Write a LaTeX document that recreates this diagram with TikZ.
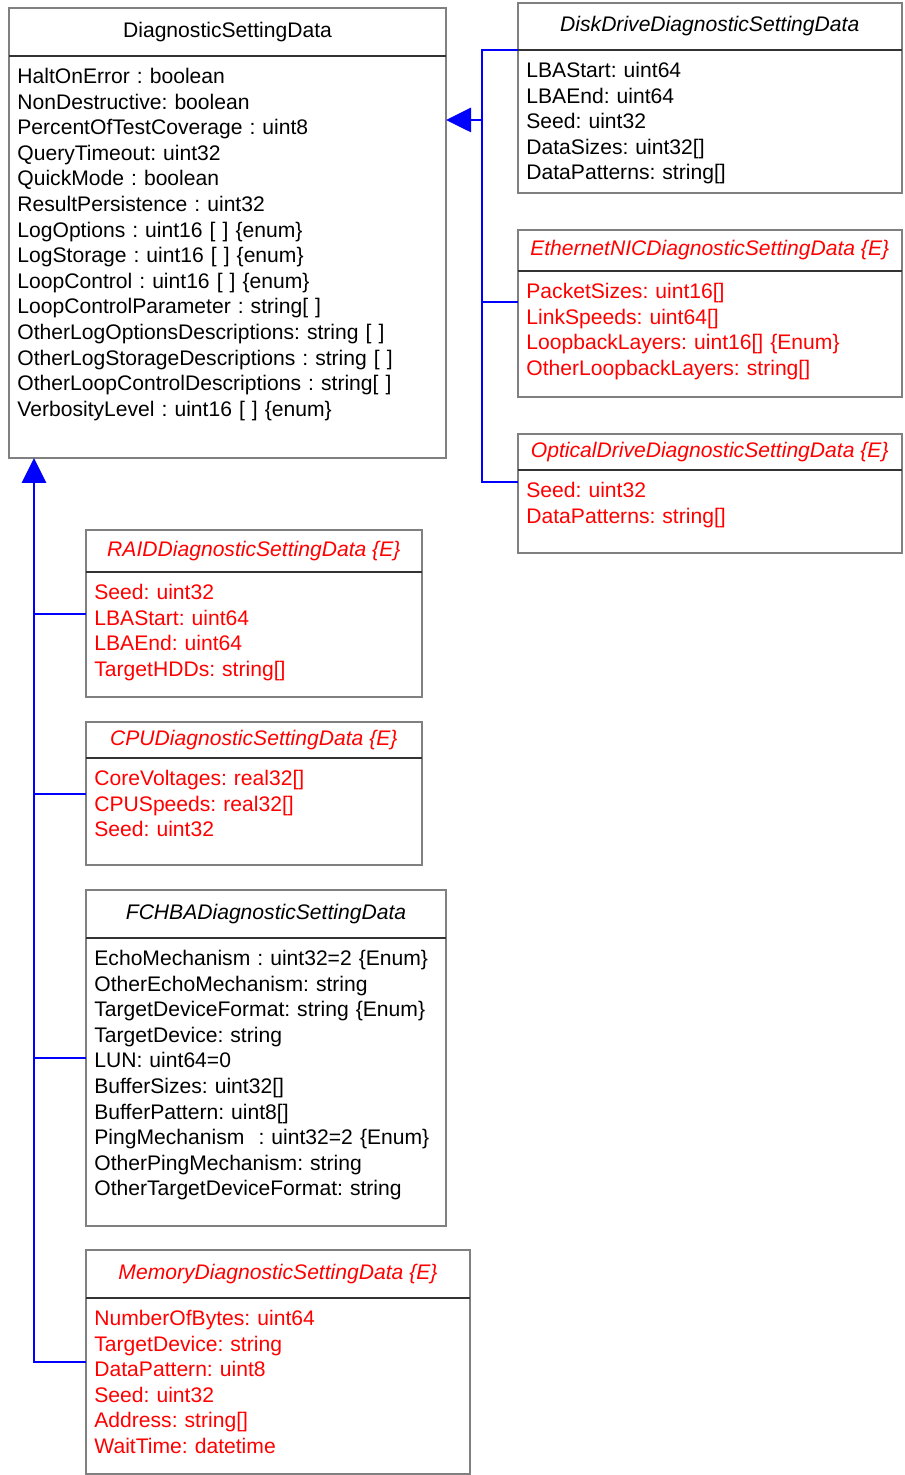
\documentclass[tikz,border=0pt]{standalone}
\usepackage{fontspec}
\setmainfont{Liberation Sans}
\usetikzlibrary{calc,arrows.meta}

\newcommand\classfont{\fontsize{10.55}{12.8}\selectfont\frenchspacing}

\tikzset{
  classhead/.style={draw=gray, line width=1pt, anchor=north west, inner sep=0pt,
    outer sep=0pt, font=\classfont},
  classbody/.style={draw=gray, line width=1pt, anchor=north west, inner sep=0pt,
    outer sep=0pt},
  attrs/.style={anchor=base west, inner xsep=4pt, inner ysep=0pt, align=left,
    text width=200pt, font=\classfont},
  extn/.style={text=red},
  divider/.style={line width=0.8pt, black!80},
  genline/.style={draw=blue, line width=1.4pt},
}

\begin{document}
\begin{tikzpicture}[x=0.5pt, y=-0.5pt]
    \useasboundingbox (0,0) rectangle (904,1475);
    % base class
    \node[classhead, minimum width=218.5pt, minimum height=24pt] (diag-head) at (9,8) {DiagnosticSettingData};
    \node[classbody, minimum width=218.5pt, minimum height=201pt] (diag-body) at (diag-head.south west) {};
    \node[attrs] (diag-attrs) at ($(diag-body.north west)+(0,27.5)$) {HaltOnError : boolean\\
      NonDestructive: boolean\\
      PercentOfTestCoverage : uint8\\
      QueryTimeout: uint32\\
      QuickMode : boolean\\
      ResultPersistence : uint32\\
      LogOptions : uint16 [ ] \{enum\}\\
      LogStorage : uint16 [ ] \{enum\}\\
      LoopControl : uint16 [ ] \{enum\}\\
      LoopControlParameter : string[ ]\\
      OtherLogOptionsDescriptions: string [ ]\\
      OtherLogStorageDescriptions : string [ ]\\
      OtherLoopControlDescriptions : string[ ]\\
      VerbosityLevel : uint16 [ ] \{enum\}};
    % subclasses on the right
    \node[classhead, font=\classfont\itshape, minimum width=191.75pt, minimum height=23.5pt] (disk-head) at (518,3) {DiskDriveDiagnosticSettingData};
    \node[classbody, minimum width=191.75pt, minimum height=71.5pt] (disk-body) at (disk-head.south west) {};
    \node[attrs] (disk-attrs) at ($(disk-body.north west)+(0,27.5)$) {LBAStart: uint64\\
      LBAEnd: uint64\\
      Seed: uint32\\
      DataSizes: uint32[]\\
      DataPatterns: string[]};
    \node[classhead, extn, font=\classfont\itshape, minimum width=191.75pt, minimum height=20.5pt] (eth-head) at (518,230) {EthernetNICDiagnosticSettingData \{E\}};
    \node[classbody, minimum width=191.75pt, minimum height=63pt] (eth-body) at (eth-head.south west) {};
    \node[attrs, extn] (eth-attrs) at ($(eth-body.north west)+(0,27.5)$) {PacketSizes: uint16[]\\
      LinkSpeeds: uint64[]\\
      LoopbackLayers: uint16[] \{Enum\}\\
      OtherLoopbackLayers: string[]};
    \node[classhead, extn, font=\classfont\itshape, minimum width=191.75pt, minimum height=18pt] (opt-head) at (518,434) {OpticalDriveDiagnosticSettingData \{E\}};
    \node[classbody, minimum width=191.75pt, minimum height=41.5pt] (opt-body) at (opt-head.south west) {};
    \node[attrs, extn] (opt-attrs) at ($(opt-body.north west)+(0,27.5)$) {Seed: uint32\\
      DataPatterns: string[]};
    % subclasses below
    \node[classhead, extn, font=\classfont\itshape, minimum width=167.85pt, minimum height=21pt] (raid-head) at (86,530) {RAIDDiagnosticSettingData \{E\}};
    \node[classbody, minimum width=167.85pt, minimum height=62.5pt] (raid-body) at (raid-head.south west) {};
    \node[attrs, extn] (raid-attrs) at ($(raid-body.north west)+(0,27.5)$) {Seed: uint32\\
      LBAStart: uint64\\
      LBAEnd: uint64\\
      TargetHDDs: string[]};
    \node[classhead, extn, font=\classfont\itshape, minimum width=167.85pt, minimum height=18pt] (cpu-head) at (86,722) {CPUDiagnosticSettingData \{E\}};
    \node[classbody, minimum width=167.85pt, minimum height=53.5pt] (cpu-body) at (cpu-head.south west) {};
    \node[attrs, extn] (cpu-attrs) at ($(cpu-body.north west)+(0,27.5)$) {CoreVoltages: real32[]\\
      CPUSpeeds: real32[]\\
      Seed: uint32};
    \node[classhead, font=\classfont\itshape, minimum width=180pt, minimum height=24pt] (fc-head) at (86,890) {FCHBADiagnosticSettingData};
    \node[classbody, minimum width=180pt, minimum height=144pt] (fc-body) at (fc-head.south west) {};
    \node[attrs] (fc-attrs) at ($(fc-body.north west)+(0,27.5)$) {EchoMechanism : uint32=2 \{Enum\}\\
      OtherEchoMechanism: string\\
      TargetDeviceFormat: string \{Enum\}\\
      TargetDevice: string\\
      LUN: uint64=0\\
      BufferSizes: uint32[]\\
      BufferPattern: uint8[]\\
      PingMechanism\ \ : uint32=2 \{Enum\}\\
      OtherPingMechanism: string\\
      OtherTargetDeviceFormat: string};
    \node[classhead, extn, font=\classfont\itshape, minimum width=192pt, minimum height=24pt] (mem-head) at (86,1250) {MemoryDiagnosticSettingData \{E\}};
    \node[classbody, minimum width=192pt, minimum height=88pt] (mem-body) at (mem-head.south west) {};
    \node[attrs, extn] (mem-attrs) at ($(mem-body.north west)+(0,27.5)$) {NumberOfBytes: uint64\\
      TargetDevice: string\\
      DataPattern: uint8\\
      Seed: uint32\\
      Address: string[]\\
      WaitTime: datetime};
    % line under each class name
    \foreach \c in {diag,disk,eth,opt,raid,cpu,fc,mem}
      \draw[divider] (\c-head.south west) -- (\c-head.south east);
    % generalisation, right hand side
    \coordinate (rbus) at (482,120);
    \coordinate (eth-in) at ($(eth-body.north west)+(0,31)$);
    \coordinate (opt-in) at ($(opt-body.north west)+(0,12)$);
    \draw[genline] (disk-head.south west) -| (rbus |- opt-in) -- (opt-in);
    \draw[genline] (rbus |- eth-in) -- (eth-in);
    \draw[genline, -{Triangle[length=12.5pt, width=12pt]}] (rbus) -- (rbus -| diag-body.east);
    % generalisation, left hand side
    \coordinate (lbus) at (34,600);
    \coordinate (raid-in) at ($(raid-body.north west)+(0,42)$);
    \coordinate (cpu-in) at ($(cpu-body.north west)+(0,36)$);
    \coordinate (fc-in) at ($(fc-body.north west)+(0,120)$);
    \coordinate (mem-in) at ($(mem-body.north west)+(0,64)$);
    \draw[genline] (lbus |- raid-in) -- (raid-in);
    \draw[genline] (lbus |- cpu-in) -- (cpu-in);
    \draw[genline] (lbus |- fc-in) -- (fc-in);
    \draw[genline, -{Triangle[length=12.5pt, width=12pt]}] (mem-in) -| (lbus |- diag-body.south);
  \end{tikzpicture}
\end{document}
